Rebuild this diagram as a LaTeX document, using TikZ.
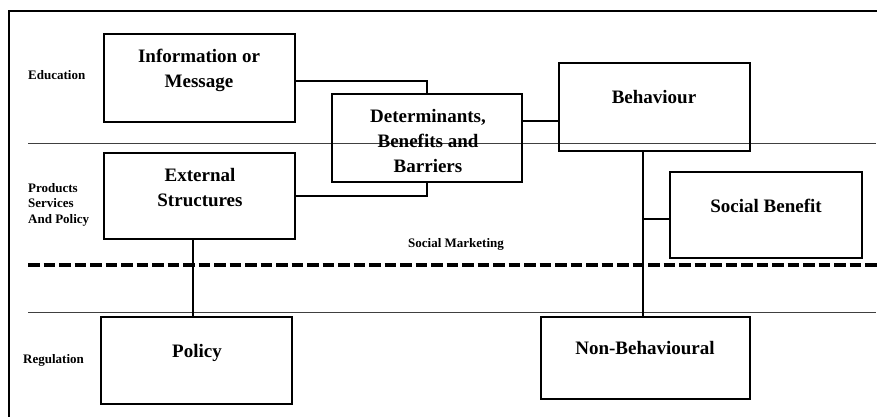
\documentclass[tikz,border=0pt]{standalone}
\usepackage{fontspec}
\setmainfont{Liberation Serif}
\begin{document}
\begin{tikzpicture}[x=1pt,y=-1pt,
  box/.style={draw=black, line width=2pt, inner sep=0pt},
  boxtext/.style={font=\bfseries\fontsize{19}{25}\selectfont, align=center, inner sep=0pt},
  sidetext/.style={font=\bfseries\fontsize{13}{15.5}\selectfont, align=left, inner sep=0pt},
  conn/.style={draw=black, line width=2pt},
  sep/.style={draw=black!75, line width=1pt},
  frame/.style={draw=black, line width=2pt}]
\useasboundingbox (0,0) rectangle (877,417);
% frame
\coordinate (fb) at (9,417);
\coordinate (ftl) at (9,11);
\coordinate (ftr) at (877,11);
\draw[frame] (fb) -- (ftl) -- (ftr);
% separators
\coordinate (s1a) at (28,143); \coordinate (s1b) at (876,143);
\coordinate (s2a) at (28,312); \coordinate (s2b) at (876,312);
\coordinate (da) at (28,265); \coordinate (db) at (877,265);
\draw[sep] (s1a) -- (s1b);
\draw[sep] (s2a) -- (s2b);
\draw[line width=4pt, dash pattern=on 11.5pt off 4pt] (da) -- (db);
% boxes
\node[box, minimum width=191pt, minimum height=88pt] (info) at (199.5,78) {};
\node[box, minimum width=190pt, minimum height=88pt] (det) at (427,138) {};
\node[box, minimum width=191pt, minimum height=88pt] (beh) at (654.5,107) {};
\node[box, minimum width=191pt, minimum height=86pt] (ext) at (199.5,196) {};
\node[box, minimum width=192pt, minimum height=86pt] (soc) at (766,215) {};
\node[box, minimum width=191pt, minimum height=87pt] (pol) at (196.5,360.5) {};
\node[box, minimum width=209pt, minimum height=82pt] (nonb) at (645.5,358) {};
% box texts
\node[boxtext] (infoT) at (199,70) {Information or\\Message};
\node[boxtext] (detT) at (428,141) {Determinants,\\Benefits and\\Barriers};
\node[boxtext] (extT) at (200,188) {External\\Structures};
\node[boxtext, anchor=base] (behT) at (654,104) {Behaviour};
\node[boxtext, anchor=base] (socT) at (766,212) {Social Benefit};
\node[boxtext, anchor=base] (polT) at (197,357) {Policy};
\node[boxtext, anchor=base] (nonbT) at (645,354) {Non-Behavioural};
% side labels
\node[sidetext, anchor=base west] (edu) at (28,80) {Education};
\node[sidetext, anchor=west] (psp) at (28,204.5) {Products\\Services\\And Policy};
\node[sidetext, anchor=base west] (reg) at (23,363) {Regulation};
\node[sidetext, anchor=base] (sm) at (456,247) {Social Marketing};
% connectors
\draw[conn] ([yshift=-3pt]info.east) -| (det.north);
\draw[conn] (ext.east) -| (det.south);
\draw[conn] ([yshift=17pt]det.east) -- ([yshift=17pt]det.east -| beh.west);
\draw[conn] ([xshift=-11.5pt]beh.south) -- ([xshift=-11.5pt]beh.south |- nonb.north);
\draw[conn] ([yshift=-4pt]soc.west) -| ([xshift=-11.5pt]beh.south);
\draw[conn] ([xshift=-6.5pt]ext.south) -- ([xshift=-6.5pt]ext.south |- pol.north);
\end{tikzpicture}
\end{document}
